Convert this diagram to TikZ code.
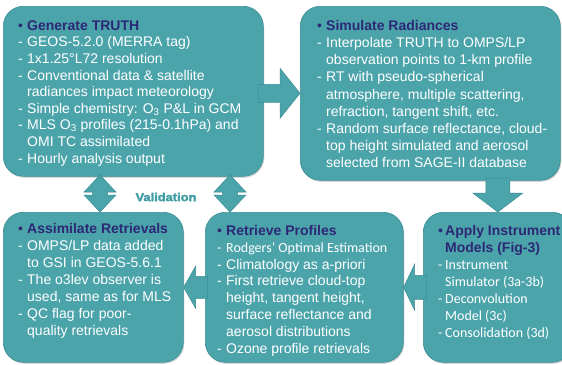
\documentclass[tikz,border=0pt]{standalone}
\usepackage{fontspec}
\setmainfont{Liberation Sans}
\newfontfamily\calfont{Carlito}
\newfontfamily\valfont[FakeBold=2.5,FakeStretch=1.12]{Liberation Sans Bold}
\usetikzlibrary{shadows}

\definecolor{boxteal}{RGB}{76,164,171}
\definecolor{boxedge}{RGB}{58,140,148}
\definecolor{headnavy}{RGB}{44,40,118}
\definecolor{valteal}{RGB}{66,158,166}

% indentation of list text after the bullet or dash
\newlength\itemind
\setlength\itemind{9pt}
\newcommand\headline[1]{\rule{0pt}{12pt}\makebox[\itemind][l]{\color{headnavy}\textbullet}{\color{headnavy}\bfseries #1}}
\newcommand\headcont[1]{\hspace*{\itemind}{\color{headnavy}\bfseries #1}}
\newcommand\dashline[1]{\makebox[\itemind][l]{-}#1}
\newcommand\contline[1]{\hspace*{\itemind}#1}

\tikzset{
  box/.style={draw=boxedge, line width=0.6pt, fill=boxteal, rounded corners=20pt,
    inner sep=0pt, anchor=north west,
    drop shadow={opacity=0.3, shadow xshift=1pt, shadow yshift=-1.5pt}},
  txt/.style={anchor=north west, inner sep=0pt, align=left, text=white},
  arrowfill/.style={fill=boxteal, draw=boxedge, line width=0.5pt, line join=miter},
  % block arrow with its tip at the origin: length, shaft half width, head half width, head length
  pics/blkarrow/.style n args={4}{code={
    \path[arrowfill] (0,0) -- (-#4,-#3) -- (-#4,-#2) -- (-#1,-#2) -- (-#1,#2)
      -- (-#4,#2) -- (-#4,#3) -- cycle;}},
  % vertical two-headed block arrow: half length, shaft half width, head half width, head length
  pics/dblarrow/.style n args={4}{code={
    \path[arrowfill] (0,-#1) -- (#3,-#1+#4) -- (#2,-#1+#4) -- (#2,#1-#4) -- (#3,#1-#4)
      -- (0,#1) -- (-#3,#1-#4) -- (-#2,#1-#4) -- (-#2,-#1+#4) -- (-#3,-#1+#4) -- cycle;}},
}

\begin{document}
\begin{tikzpicture}[x=1pt,y=-1pt]
\useasboundingbox (0,0) rectangle (562,364);
\fill[white] (0,0) rectangle (562,364);

% the five stages
\node[box, minimum width=260pt, minimum height=170pt] (b1) at (3,6) {};
\node[box, minimum width=260pt, minimum height=174pt] (b2) at (300,6) {};
\node[box, minimum width=149pt, minimum height=150pt] (b3) at (423,212) {};
\node[box, minimum width=198pt, minimum height=150pt] (b4) at (205,212) {};
\node[box, minimum width=180pt, minimum height=150pt] (b5) at (3,212) {};

% flow between the stages
\pic (a12) at (b2.west) {blkarrow={42}{9}{25}{20}};
\pic[rotate=-90] (a23) at (b3.north) {blkarrow={34}{12}{25}{19}};
\pic[rotate=180] (a34) at (b4.east) {blkarrow={23}{12}{23}{11}};
\pic[rotate=180] (a45) at (b5.east) {blkarrow={24}{11}{21}{12}};

% validation links
\pic (v1) at (100,193.5) {dblarrow={18.5}{7.5}{16}{17}};
\pic (v2) at (230,193.5) {dblarrow={18.5}{7.5}{16}{17}};
\node[font=\valfont\fontsize{11.5}{13}\selectfont, text=valteal] (val) at (166,197) {Validation};

% stage texts
\node[txt, font=\fontsize{14}{16.6}\selectfont] (t1) at (18,18) {%
\headline{Generate TRUTH}\\
\dashline{GEOS-5.2.0 (MERRA tag)}\\
\dashline{1x1.25°L72 resolution}\\
\dashline{Conventional data \& satellite}\\
\contline{radiances impact meteorology}\\
\dashline{Simple chemistry: O\textsubscript{3} P\&L in GCM}\\
\dashline{MLS O\textsubscript{3} profiles (215-0.1hPa) and}\\
\contline{OMI TC assimilated}\\
\dashline{Hourly analysis output}};

\node[txt, font=\fontsize{14}{17.2}\selectfont] (t2) at (317,18) {%
\headline{Simulate Radiances}\\
\dashline{Interpolate TRUTH to OMPS/LP}\\
\contline{observation points to 1-km profile}\\
\dashline{RT with pseudo-spherical}\\
\contline{atmosphere, multiple scattering,}\\
\contline{refraction, tangent shift, etc.}\\
\dashline{Random surface reflectance, cloud-}\\
\contline{top height simulated and aerosol}\\
\contline{selected from SAGE-II database}};

\node[txt, font=\fontsize{14}{17}\selectfont] (t5) at (18,221) {%
\headline{Assimilate Retrievals}\\
\dashline{OMPS/LP data added}\\
\contline{to GSI in GEOS-5.6.1}\\
\dashline{The o3lev observer is}\\
\contline{used, same as for MLS}\\
\dashline{QC flag for poor-}\\
\contline{quality retrievals}};

\node[txt, font=\fontsize{14}{16.9}\selectfont] (t4) at (217,223) {%
\headline{Retrieve Profiles}\\
{\calfont\dashline{Rodgers’ Optimal Estimation}}\\
\dashline{Climatology as a-priori}\\
\dashline{First retrieve cloud-top}\\
\contline{height, tangent height,}\\
\contline{surface reflectance and}\\
\contline{aerosol distributions}\\
\dashline{Ozone profile retrievals}};

\setlength\itemind{7pt}
\node[txt, font=\fontsize{14}{17}\selectfont] (t3) at (438,223) {%
\headline{Apply Instrument}\\
\headcont{Models (Fig-3)}\\
{\calfont\dashline{Instrument}}\\
{\calfont\contline{Simulator (3a-3b)}}\\
{\calfont\dashline{Deconvolution}}\\
{\calfont\contline{Model (3c)}}\\
{\calfont\dashline{Consolidation (3d)}}};
\end{tikzpicture}
\end{document}
